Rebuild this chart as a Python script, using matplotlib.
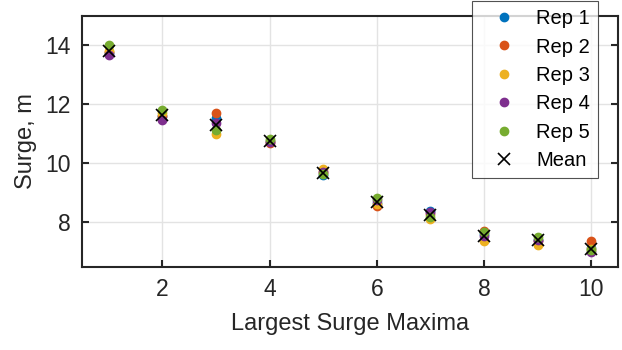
import numpy as np
import matplotlib
matplotlib.use('Agg')
import matplotlib.pyplot as plt

plt.rcParams['font.family'] = ['Liberation Sans', 'DejaVu Sans']

maxima = [1, 2, 3, 4, 5, 6, 7, 8, 9, 10]
rep1 = [13.75, 11.60, 11.52, 10.75, 9.60, 8.65, 8.40, 7.60, 7.42, 7.15]
rep2 = [13.78, 11.62, 11.69, 10.68, 9.70, 8.56, 8.28, 7.70, 7.38, 7.37]
rep3 = [13.80, 11.70, 11.01, 10.76, 9.82, 8.62, 8.12, 7.36, 7.25, 7.10]
rep4 = [13.66, 11.48, 11.36, 10.72, 9.72, 8.75, 8.35, 7.55, 7.40, 6.99]
rep5 = [14.00, 11.80, 11.12, 10.84, 9.65, 8.82, 8.20, 7.66, 7.52, 7.05]
mean = [13.79, 11.63, 11.29, 10.75, 9.68, 8.68, 8.25, 7.53, 7.39, 7.11]

reps = [rep1, rep2, rep3, rep4, rep5]
labels = ['Rep 1', 'Rep 2', 'Rep 3', 'Rep 4', 'Rep 5']
colors = ['#0072BD', '#D95319', '#EDB120', '#7E2F8E', '#77AC30']
ink = '#262626'

fig = plt.figure(figsize=(6.22, 3.5), dpi=100)
ax = fig.add_axes([82/622, 1 - 266.7/350, 536/622, 251/350])

for r, lab, c in zip(reps, labels, colors):
    ax.plot(maxima, r, 'o', color=c, ms=6, label=lab, zorder=3)
ax.plot(maxima, mean, 'x', color='k', ms=8.5, mew=1.2, label='Mean', zorder=4)

ax.set_xlim(0.5, 10.5)
ax.set_ylim(6.5, 15)
ax.set_xticks([2, 4, 6, 8, 10])
ax.set_yticks([8, 10, 12, 14])
ax.grid(True, color='#e3e3e3', lw=1)
ax.set_axisbelow(True)
ax.tick_params(direction='in', length=5, width=1.5, colors=ink, labelsize=16.5,
               top=False, right=True, pad=8)
for s in ax.spines.values():
    s.set_color(ink)
    s.set_linewidth(1.5)

ax.set_xlabel('Largest Surge Maxima', fontsize=17, color=ink, labelpad=9)
ax.set_ylabel('Surge, m', fontsize=17, color=ink, labelpad=6)

leg = ax.legend(loc='upper left', bbox_to_anchor=(471.7/622, 1 - 1/350),
                bbox_transform=fig.transFigure, fontsize=14.5, frameon=True,
                fancybox=False, borderpad=0.4, labelspacing=0.47,
                handletextpad=0.4, handlelength=2.4, borderaxespad=0)
leg.get_frame().set_edgecolor(ink)
leg.get_frame().set_linewidth(0.8)
leg.set_zorder(10)

fig.savefig('out.png', dpi=100)
